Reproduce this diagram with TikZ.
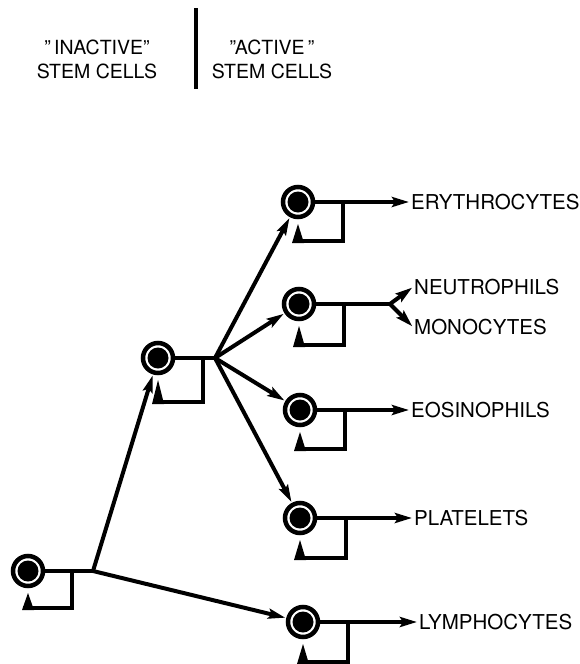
\documentclass[tikz,border=0pt]{standalone}
\usepackage{fontspec}
\setmainfont{TeX Gyre Heros}
\usetikzlibrary{arrows.meta,calc}
\begin{document}
\begin{tikzpicture}[x=1pt,y=-1pt,
  cell/.style={circle,draw,line width=4.5pt,minimum size=30pt,inner sep=0pt,fill=white},
  disc/.style={fill=black},
  conn/.style={line width=4pt,shorten >=1pt,-{Stealth[length=17pt,width=10pt,inset=3pt]}},
  plain/.style={line width=4pt},
  tri/.style={fill=black},
  lbl/.style={anchor=west,inner xsep=1pt,inner ysep=0pt,font=\fontsize{20.5}{24}\selectfont},
  hdr/.style={align=center,inner sep=0pt,font=\fontsize{19.5}{24}\selectfont},
  bar/.style={line width=4pt}
]
\useasboundingbox (0,0) rectangle (580,664);

% header
\node[hdr] (inact) at (97,59) {"\,INACTIVE"\\STEM CELLS};
\node[hdr] (act) at (272,59) {"ACTIVE\,"\\STEM CELLS};
\coordinate (bartop) at (196,8);
\coordinate (barbot) at (196,89);
\draw[bar] (bartop) -- (barbot);

% cells
\node[cell] (R) at (28,571) {};
\node[cell] (M) at (158,358) {};
\node[cell] (E) at (298,202) {};
\node[cell] (N) at (299,304) {};
\node[cell] (O) at (300,410) {};
\node[cell] (P) at (300,518) {};
\node[cell] (L) at (303,622) {};
\foreach \c in {R,M,E,N,O,P,L}{
  \fill[disc] (\c.center) circle[radius=10.5pt];
}

% branch points
\coordinate (rb) at (93,571);
\coordinate (mb) at (215,358);
\coordinate (nb) at (390,304);

% labels
\node[lbl] (Et) at (410,202) {ERYTHROCYTES};
\node[lbl] (Nt) at (413,287) {NEUTROPHILS};
\node[lbl] (Mt) at (413,327) {MONOCYTES};
\node[lbl] (Ot) at (410,410) {EOSINOPHILS};
\node[lbl] (Pt) at (413,518) {PLATELETS};
\node[lbl] (Lt) at (418,622) {LYMPHOCYTES};

% self-renewal loops
\foreach \c/\dx/\dy in {R/44/37,M/45/44,E/45/39,N/45/41,O/45/39,P/46/40,L/45/40}{
  \draw[plain] ($(\c)+(\dx,0)$) |- ($(\c)+(-5,\dy)$);
  \fill[tri] ($(\c)+(-6,\dy+2)$) -- ($(\c)+(6,\dy+2)$) -- ($(\c)+(0,22)$) -- cycle;
}

% connectors
\draw[plain] (R) -- (rb);
\draw[conn] (rb) -- (M);
\draw[conn] (rb) -- (L);
\draw[plain] (M) -- (mb);
\draw[conn] (mb) -- (E);
\draw[conn] (mb) -- (N);
\draw[conn] (mb) -- (O);
\draw[conn] (mb) -- (P);
\draw[conn] (E) -- (Et.west);
\draw[plain] (N) -- (nb);
\draw[conn] (nb) -- (Nt.west);
\draw[conn] (nb) -- (Mt.west);
\draw[conn] (O) -- (Ot.west);
\draw[conn] (P) -- (Pt.west);
\draw[conn] (L) -- (Lt.west);
\end{tikzpicture}
\end{document}
